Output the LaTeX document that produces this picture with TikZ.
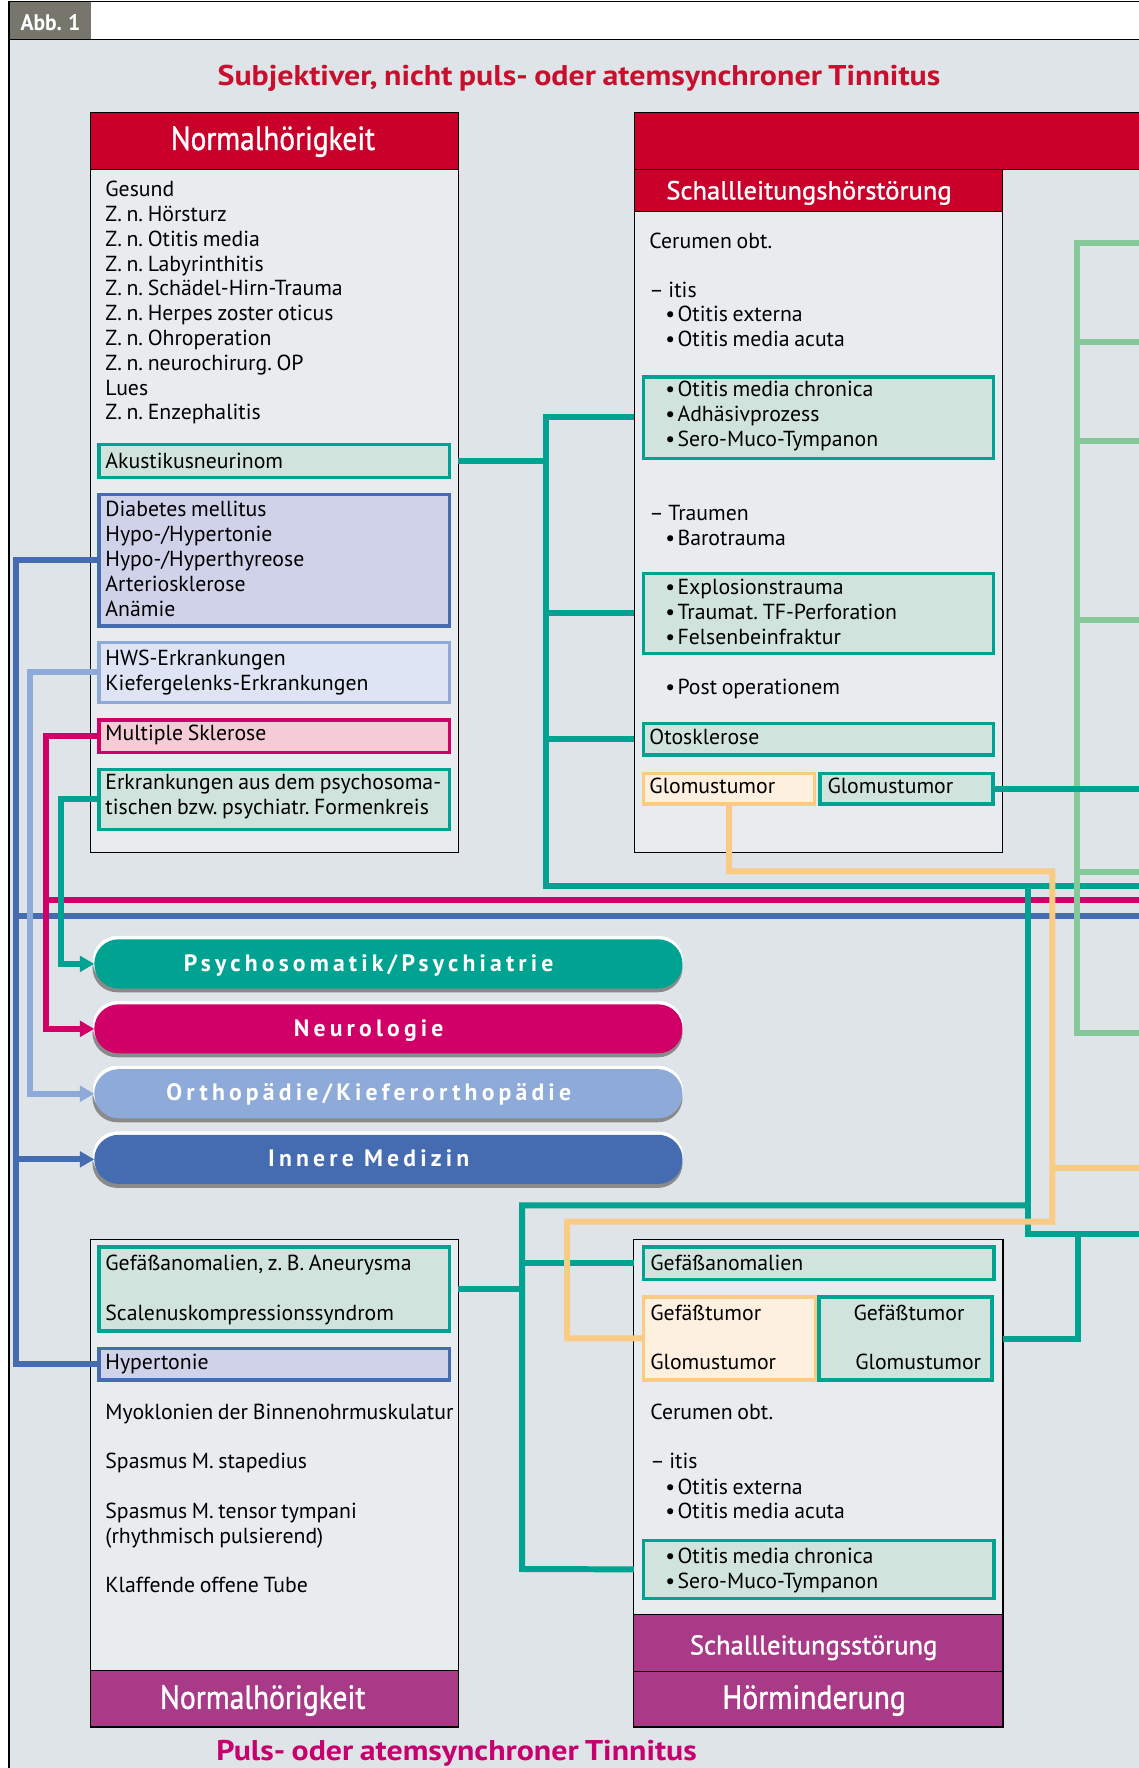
\documentclass[tikz,border=0pt]{standalone}
\usepackage{fontspec}
\usepackage{graphicx}
\setmainfont{PT Sans}[WordSpace=0.8]
\newfontfamily\pillfont[LetterSpace=17.6]{PT Sans}
\newfontfamily\hdfont[FakeBold=1.2]{PT Sans}
\usetikzlibrary{arrows.meta,fit}
\definecolor{cRed}{HTML}{C8002A}
\definecolor{cTitle}{HTML}{C8102E}
\definecolor{cTeal}{HTML}{00A391}
\definecolor{cTealF}{HTML}{D0E3DD}
\definecolor{cBlue}{HTML}{456BB0}
\definecolor{cBlueF}{HTML}{D0D2EA}
\definecolor{cLBlue}{HTML}{8EAAD8}
\definecolor{cLBlueF}{HTML}{DFE4F4}
\definecolor{cMag}{HTML}{D10069}
\definecolor{cMagF}{HTML}{F5CCD5}
\definecolor{cOr}{HTML}{F9CB85}
\definecolor{cOrF}{HTML}{FEF0DE}
\definecolor{cGreen}{HTML}{85C99B}
\definecolor{cPurp}{HTML}{A83A87}
\definecolor{cBg}{HTML}{DFE4E8}
\definecolor{cBody}{HTML}{E8ECEF}
\definecolor{cTab}{HTML}{76766C}
\definecolor{cShadow}{HTML}{8A8A8A}
\definecolor{cTitle2}{HTML}{C8006E}
\newcommand\bodyfont{\fontsize{19.3}{23}\selectfont\frenchspacing}
\newcommand\bl{•\hspace{2.2pt}}
\newcounter{tn}
\newcommand\tx[3]{\stepcounter{tn}\node[txt] (t\arabic{tn}) at (#1,#2) {#3};}
\newcommand\bx[6]{\node[fit={(#2,#3)(#4,#5)},inner sep=0pt,outer sep=0pt,#6] (#1) {};}
\pgfdeclarelayer{outerL}
\pgfdeclarelayer{lineL}
\pgfdeclarelayer{topL}
\pgfsetlayers{outerL,lineL,main,topL}
\begin{document}
\begin{tikzpicture}[x=1pt,y=-1pt,line join=miter,
  conn/.style={line width=5.3pt},
  arr/.style={-{Triangle[length=12.7pt,width=13.7pt]}},
  ob/.style={draw=black,line width=1pt},
  tealbox/.style={draw=cTeal,fill=cTealF,line width=3pt},
  bluebox/.style={draw=cBlue,fill=cBlueF,line width=3pt},
  lbluebox/.style={draw=cLBlue,fill=cLBlueF,line width=3pt},
  magbox/.style={draw=cMag,fill=cMagF,line width=3pt},
  orbox/.style={draw=cOr,fill=cOrF,line width=3pt},
  txt/.style={anchor=base west,inner sep=0pt,outer sep=0pt,font=\bodyfont},
  hd/.style={anchor=base,inner sep=0pt,outer sep=0pt,text=white},
  pilltxt/.style={anchor=base,inner sep=0pt,outer sep=0pt,text=white,font=\fontsize{21}{24}\pillfont\bfseries},
  pill/.style={rounded corners=21.8pt}]
\useasboundingbox (0,0) rectangle (1010,1568);

% ---------- frame and outer boxes ----------
\begin{pgfonlayer}{outerL}
\fill[cBg] (8,34.9) rectangle (1012,1572);
\fill[white] (80.5,1.5) rectangle (1012,34.9);
\fill[cTab] (8,1.5) rectangle (80.5,34.9);
\draw[line width=1pt] (8,1572) -- (8,1.5) -- (1012,1.5);
\draw[line width=1pt] (8,34.9) -- (1012,34.9);
\bx{nlh}{80}{99.6}{406.4}{150}{ob,fill=cRed}
\bx{nlb}{80}{150}{406.4}{756.1}{ob,fill=cBody}
\bx{srh}{562.5}{99.6}{1014}{150}{ob,fill=cRed}
\bx{srs}{562.5}{150}{889.3}{187.7}{ob,fill=cRed}
\bx{srb}{562.5}{187.7}{889.3}{756.1}{ob,fill=cBody}
\bx{nlb2}{80}{1099.5}{406.4}{1481.8}{ob,fill=cBody}
\bx{nlf2}{80}{1481.8}{406.4}{1531.6}{ob,fill=cPurp}
\bx{srb2}{562.2}{1099.5}{889.5}{1432}{ob,fill=cBody}
\bx{srs2}{562.2}{1432}{889.5}{1482.4}{ob,fill=cPurp}
\bx{srh2}{562.2}{1482.4}{889.5}{1531.6}{ob,fill=cPurp}
\end{pgfonlayer}

% ---------- inner boxes ----------
\bx{akus}{87.9}{394}{398.4}{423.5}{tealbox}
\bx{diab}{87.9}{438.4}{398.4}{555.1}{bluebox}
\bx{hws}{87.9}{569.9}{398.4}{622.8}{lbluebox}
\bx{ms}{87.9}{638.5}{398.4}{667.1}{magbox}
\bx{erk}{87.9}{682.2}{398.4}{735.4}{tealbox}
\bx{chron}{570.7}{334.3}{881.1}{406.4}{tealbox}
\bx{expl}{570.7}{508.5}{881.1}{579.3}{tealbox}
\bx{otos}{570.7}{641.5}{881.1}{669.5}{tealbox}
\bx{glomO}{570.7}{685.8}{722.6}{713.2}{orbox}
\bx{glomT}{727.1}{685.8}{880.5}{713.2}{tealbox}
\bx{gefL}{87.9}{1105.8}{398.4}{1180.5}{tealbox}
\bx{hyp}{87.9}{1195.7}{398.4}{1223.9}{bluebox}
\bx{gefR}{570.8}{1105.8}{881.5}{1134.9}{tealbox}
\bx{gtO}{570.8}{1150.1}{723.3}{1223.9}{orbox}
\bx{gtT}{726.5}{1150.1}{879.8}{1223.9}{tealbox}
\bx{chron2}{570.8}{1366}{881.5}{1417.7}{tealbox}

% ---------- pills ----------
\fill[cShadow,pill] (82,836.5) rectangle (605.3,880);
\fill[white,pill] (82.3,830) rectangle (605.8,874);
\bx{psy}{83.6}{833}{605.3}{876.7}{pill,fill=cTeal}
\fill[cShadow,pill] (82,894.2) rectangle (605.3,937.7);
\fill[white,pill] (82.3,887.7) rectangle (605.8,931.7);
\bx{neu}{83.6}{890.7}{605.3}{934.2}{pill,fill=cMag}
\fill[cShadow,pill] (82,951.7) rectangle (605.3,995.3);
\fill[white,pill] (82.3,945.2) rectangle (605.8,989.2);
\bx{ort}{83.6}{948.2}{605.3}{991.8}{pill,fill=cLBlue}
\fill[cShadow,pill] (82,1009.9) rectangle (605.3,1053.5);
\fill[white,pill] (82.3,1003.4) rectangle (605.8,1047.4);
\bx{inn}{83.6}{1006.4}{605.3}{1050}{pill,fill=cBlue}
\node[pilltxt] (psyT) at (327,861.2) {Psychosomatik/Psychiatrie};
\node[pilltxt] (neuT) at (327,918.8) {Neurologie};
\node[pilltxt] (ortT) at (327,976.3) {Orthopädie/Kieferorthopädie};
\node[pilltxt] (innT) at (327,1034.5) {Innere Medizin};

% ---------- connector coordinates ----------
\coordinate (bA) at (14,496.75);
\coordinate (bB) at (14,1209.8);
\coordinate (bJ) at (14,812);
\coordinate (bE) at (1014,812);
\coordinate (lA) at (27,596.35);
\coordinate (mA) at (40.6,652.8);
\coordinate (mJ) at (40.6,798.4);
\coordinate (mE) at (1014,798.4);
\coordinate (tA) at (53.7,708.8);
\coordinate (T1) at (484,369.5);
\coordinate (T2) at (484,785.7);
\coordinate (T3) at (1014,785.7);
\coordinate (G1) at (1014,699.5);
\coordinate (V1) at (912,785.7);
\coordinate (V2) at (912,1094.6);
\coordinate (V3) at (1014,1094.6);
\coordinate (W1) at (956,1094.6);
\coordinate (W2) at (956,1187.2);
\coordinate (U1) at (463,1069);
\coordinate (U2) at (463,1391.5);
\coordinate (U3) at (912,1069);
\coordinate (O1) at (646.7,772.7);
\coordinate (O2) at (933.3,772.7);
\coordinate (O3) at (933.3,1083.4);
\coordinate (O4) at (503,1083.4);
\coordinate (O5) at (503,1187);
\coordinate (O6) at (933.3,1036);
\coordinate (O7) at (1014,1036);
\coordinate (Gr1) at (1014,215.3);
\coordinate (Gr2) at (955,215.3);
\coordinate (Gr3) at (955,916.5);
\coordinate (Gr4) at (1014,916.5);

\begin{pgfonlayer}{lineL}
\draw[conn,cMag] (mJ) -- (mE);
\draw[conn,cBlue] (bJ) -- (bE);
\draw[conn,cTeal] (srb.west |- T1) -- (T1) -- (T2) -- (T3);
\draw[conn,cTeal] (nlb.east |- akus.center) -- (T1 |- akus.center);
\draw[conn,cTeal] (T1 |- expl.center) -- (srb.west |- expl.center);
\draw[conn,cTeal] (T1 |- otos.center) -- (srb.west |- otos.center);
\draw[conn,cGreen] (Gr1) -- (Gr2) -- (Gr3) -- (Gr4);
\foreach \yy/\nm in {303/ga,391.5/gb,549.5/gc,773/gd}{
  \coordinate (\nm1) at (955,\yy);
  \coordinate (\nm2) at (1014,\yy);
  \draw[conn,cGreen] (\nm1) -- (\nm2);
}
\draw[conn,cTeal] (glomT.east) -- (G1);
\draw[conn,cTeal] (V1) -- (V2) -- (V3);
\draw[conn,cTeal] (W1) -- (W2) -- (srb2.east |- W2);
\draw[conn,cTeal] (srb2.west |- chron2.center) -- (U2) -- (U1) -- (U3);
\draw[conn,cTeal] (nlb2.east |- gefL.center) -- (U1 |- gefL.center);
\draw[conn,cTeal] (U1 |- gefR.center) -- (srb2.west |- gefR.center);
\draw[conn,cOr] (glomO.south) -- (O1) -- (O2) -- (O3) -- (O4) -- (O5) -- (gtO.west |- O5);
\draw[conn,cOr] (O6) -- (O7);
\end{pgfonlayer}

\begin{pgfonlayer}{topL}
\draw[conn,cBlue] (diab.west) -- (bA) -- (bB) -- (hyp.west);
\draw[conn,cBlue,arr] (bA |- inn.west) -- (inn.west);
\draw[conn,cLBlue,arr] (hws.west) -- (lA) -- (lA |- ort.west) -- (ort.west);
\draw[conn,cMag,arr] (ms.west) -- (mA) -- (mA |- neu.west) -- (neu.west);
\draw[conn,cTeal,arr] (erk.west) -- (tA) -- (tA |- psy.west) -- (psy.west);
\end{pgfonlayer}

% ---------- titles and headers ----------
\node[anchor=base west,inner sep=0pt,text=white,font=\fontsize{20}{22}\selectfont\bfseries] (abb) at (18,27) {\resizebox{53pt}{\height}{Abb. 1}};
\node[anchor=base,inner sep=0pt,text=cTitle,font=\fontsize{25.3}{30}\selectfont\bfseries] (title) at (513.5,75.4) {\resizebox{641pt}{\height}{Subjektiver, nicht puls- oder atemsynchroner Tinnitus}};
\node[anchor=base west,inner sep=0pt,text=cTitle2,font=\fontsize{25.3}{30}\selectfont\bfseries] (title2) at (191.8,1561.6) {\resizebox{426pt}{\height}{Puls- oder atemsynchroner Tinnitus}};
\node[hd,font=\fontsize{29.6}{32}\hdfont] (h1) at (242.1,133) {\resizebox{181pt}{\height}{Normalhörigkeit}};
\node[hd,font=\fontsize{23}{26}\hdfont] (h2) at (717.5,176.8) {\resizebox{253pt}{\height}{Schallleitungshörstörung}};
\node[hd,font=\fontsize{29.6}{32}\hdfont] (h3) at (233,1515.5) {\resizebox{182pt}{\height}{Normalhörigkeit}};
\node[hd,font=\fontsize{24}{26}\hdfont] (h4) at (721.6,1467.3) {\resizebox{219.4pt}{\height}{Schallleitungsstörung}};
\node[hd,font=\fontsize{29.6}{32}\hdfont] (h5) at (722,1515.5) {\resizebox{162.7pt}{\height}{Hörminderung}};

% ---------- texts top-left ----------
\tx{93.5}{174.4}{Gesund}
\tx{93.5}{196.4}{Z. n. Hörsturz}
\tx{93.5}{218.4}{Z. n. Otitis media}
\tx{93.5}{240.4}{Z. n. Labyrinthitis}
\tx{93.5}{262.4}{Z. n. Schädel-Hirn-Trauma}
\tx{93.5}{284.4}{Z. n. Herpes zoster oticus}
\tx{93.5}{306.4}{Z. n. Ohroperation}
\tx{93.5}{328.4}{Z. n. neurochirurg. OP}
\tx{93.5}{350.4}{Lues}
\tx{93.5}{372.4}{Z. n. Enzephalitis}
\tx{93.5}{415.3}{Akustikusneurinom}
\tx{93.5}{458.2}{Diabetes mellitus}
\tx{93.5}{480.3}{Hypo-/Hypertonie}
\tx{93.5}{502.5}{Hypo-/Hyperthyreose}
\tx{93.5}{524.7}{Arteriosklerose}
\tx{93.5}{546.8}{Anämie}
\tx{93.5}{590.6}{HWS-Erkrankungen}
\tx{93.5}{612.5}{Kiefergelenks-Erkrankungen}
\tx{93.5}{656.8}{Multiple Sklerose}
\tx{93.5}{700.5}{Erkrankungen aus dem psychosoma-}
\tx{93.5}{722.1}{tischen bzw. psychiatr. Formenkreis}

% ---------- texts top-right ----------
\tx{576}{220}{Cerumen obt.}
\tx{576}{263.6}{– itis}
\tx{590}{285.2}{\bl Otitis externa}
\tx{590}{307.4}{\bl Otitis media acuta}
\tx{590}{351.8}{\bl Otitis media chronica}
\tx{590}{374}{\bl Adhäsivprozess}
\tx{590}{396.1}{\bl Sero-Muco-Tympanon}
\tx{576}{461.7}{– Traumen}
\tx{590}{484}{\bl Barotrauma}
\tx{590}{527.5}{\bl Explosionstrauma}
\tx{590}{549.5}{\bl Traumat. TF-Perforation}
\tx{590}{571.5}{\bl Felsenbeinfraktur}
\tx{590}{616.3}{\bl Post operationem}
\tx{576}{660}{Otosklerose}
\tx{576}{704}{Glomustumor}
\tx{733.9}{704}{Glomustumor}

% ---------- texts bottom-left ----------
\tx{93.5}{1126.8}{Gefäßanomalien, z. B. Aneurysma}
\tx{93.5}{1170.8}{Scalenuskompressionssyndrom}
\tx{93.5}{1214.2}{Hypertonie}
\tx{93.5}{1258.5}{Myoklonien der Binnenohrmuskulatur}
\tx{93.5}{1302.7}{Spasmus M. stapedius}
\tx{93.5}{1346.8}{Spasmus M. tensor tympani}
\tx{93.5}{1368.7}{(rhythmisch pulsierend)}
\tx{93.5}{1412.7}{Klaffende offene Tube}

% ---------- texts bottom-right ----------
\tx{576.8}{1126.8}{Gefäßanomalien}
\tx{576.8}{1170.8}{Gefäßtumor}
\tx{576.8}{1214.5}{Glomustumor}
\tx{757}{1170.8}{Gefäßtumor}
\tx{758.6}{1214.5}{Glomustumor}
\tx{576.8}{1258.5}{Cerumen obt.}
\tx{576.8}{1302.5}{– itis}
\tx{590}{1325}{\bl Otitis externa}
\tx{590}{1346.5}{\bl Otitis media acuta}
\tx{590}{1387}{\bl Otitis media chronica}
\tx{590}{1409}{\bl Sero-Muco-Tympanon}
\end{tikzpicture}
\end{document}
